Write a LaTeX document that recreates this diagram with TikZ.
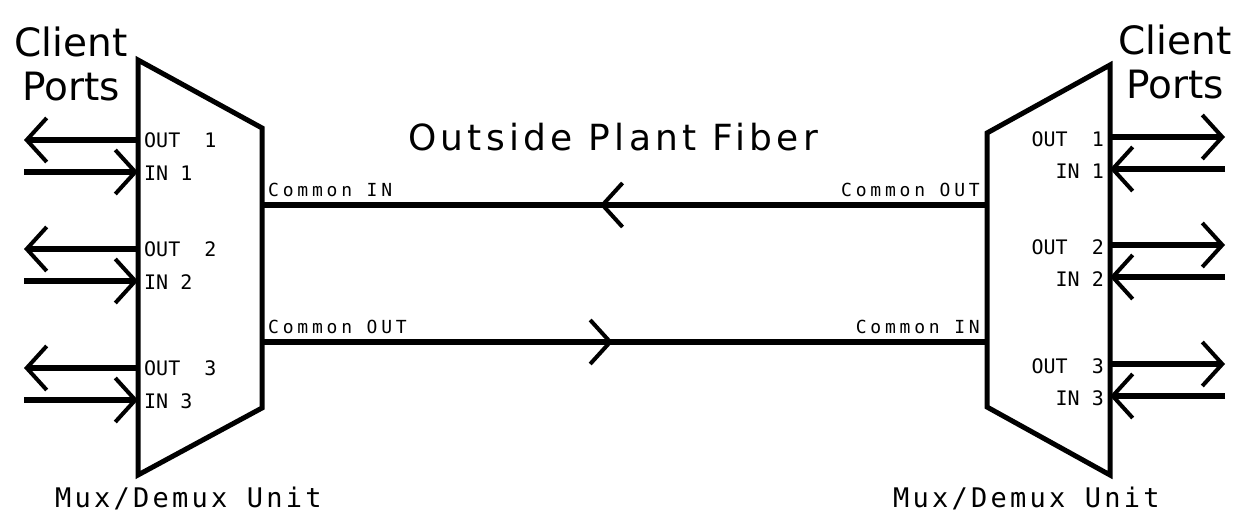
\documentclass[tikz,border=0pt]{standalone}
\usepackage{fontspec}
\setmainfont{DejaVu Sans}
\newfontfamily\portfont{DejaVu Sans Mono}
\newfontfamily\fiberfont[LetterSpace=21]{DejaVu Sans Mono}
\newfontfamily\unitfont[LetterSpace=12]{DejaVu Sans Mono}
\newfontfamily\titlefont[LetterSpace=12]{DejaVu Sans}
\usetikzlibrary{arrows.meta,decorations.markings,calc}

\begin{document}
\begin{tikzpicture}[x=1pt,y=-1pt,
    mux/.style={line width=5pt,line join=miter},
    port/.style={line width=6pt,-{Straight Barb[length=20pt,width=44pt,line width=4pt]}},
    fiber/.style={line width=5.5pt},
    portlbl/.style={inner sep=0pt,font=\portfont\fontsize{20}{20}\selectfont},
    fiberlbl/.style={inner sep=0pt,font=\fiberfont\fontsize{18}{18}\selectfont},
    unitlbl/.style={inner sep=0pt,font=\unitfont\fontsize{27}{27}\selectfont},
    clientlbl/.style={inner sep=0pt,align=center,font=\fontsize{39}{44}\selectfont}]
  \useasboundingbox (0,0) rectangle (1245,518);

  % left unit
  \begin{scope}
    \def\edge{138}
    \def\tail{24}
    \draw[mux] (\edge,60) -- (262,128) -- (262,408) -- (\edge,475) -- cycle;
    \foreach \n/\y in {1/140,2/249,3/368} {
      \coordinate (lout\n) at (\edge,\y);
      \coordinate (lin\n) at (\edge,\y+32);
      \draw[port] (lout\n) -- (\tail,\y);
      \draw[port] (\tail,\y+32) -- (lin\n);
      \node[portlbl,anchor=base west] at ($(lout\n)+(6,8)$) {OUT\ \ \n};
      \node[portlbl,anchor=base west] at ($(lin\n)+(6,9)$) {IN \n};
    }
    \node[clientlbl] (lclient) at (71,64) {Client\\Ports};
    \node[unitlbl,anchor=base west] (lunit) at (55,507) {Mux/Demux Unit};
  \end{scope}

  % right unit
  \begin{scope}
    \def\edge{1110}
    \def\tail{1225}
    \draw[mux] (\edge,65) -- (987,133) -- (987,407) -- (\edge,475) -- cycle;
    \foreach \n/\y in {1/137,2/245,3/364} {
      \coordinate (rout\n) at (\edge,\y);
      \coordinate (rin\n) at (\edge,\y+32);
      \draw[port] (rout\n) -- (\tail,\y);
      \draw[port] (\tail,\y+32) -- (rin\n);
      \node[portlbl,anchor=base east] at ($(rout\n)+(-6,10)$) {OUT\ \ \n};
      \node[portlbl,anchor=base east] at ($(rin\n)+(-6,10)$) {IN \n};
    }
    \node[clientlbl] (rclient) at (1175,62) {Client\\Ports};
    \node[unitlbl,anchor=base west] (runit) at (893,507) {Mux/Demux Unit};
  \end{scope}

  % fiber pair
  \coordinate (lcin) at (262,205);
  \coordinate (rcout) at (987,205);
  \coordinate (lcout) at (262,342);
  \coordinate (rcin) at (987,342);
  \draw[fiber,postaction={decorate},decoration={markings,
      mark=at position 0.534 with {\arrow{Straight Barb[length=20pt,width=44pt,line width=4pt]}}}]
    (rcout) -- (lcin);
  \draw[fiber,postaction={decorate},decoration={markings,
      mark=at position 0.484 with {\arrow{Straight Barb[length=20pt,width=44pt,line width=4pt]}}}]
    (lcout) -- (rcin);
  \node[fiberlbl,anchor=base west] at ($(lcin)+(6,-8)$) {Common IN};
  \node[fiberlbl,anchor=base east] at ($(rcout)+(-7,-8)$) {Common OUT};
  \node[fiberlbl,anchor=base west] at ($(lcout)+(6,-8)$) {Common OUT};
  \node[fiberlbl,anchor=base east] at ($(rcin)+(-7,-8)$) {Common IN};

  \node[font=\titlefont\fontsize{36}{36}\selectfont,anchor=base] (plant) at (613,151) {Outside Plant Fiber};
\end{tikzpicture}
\end{document}
